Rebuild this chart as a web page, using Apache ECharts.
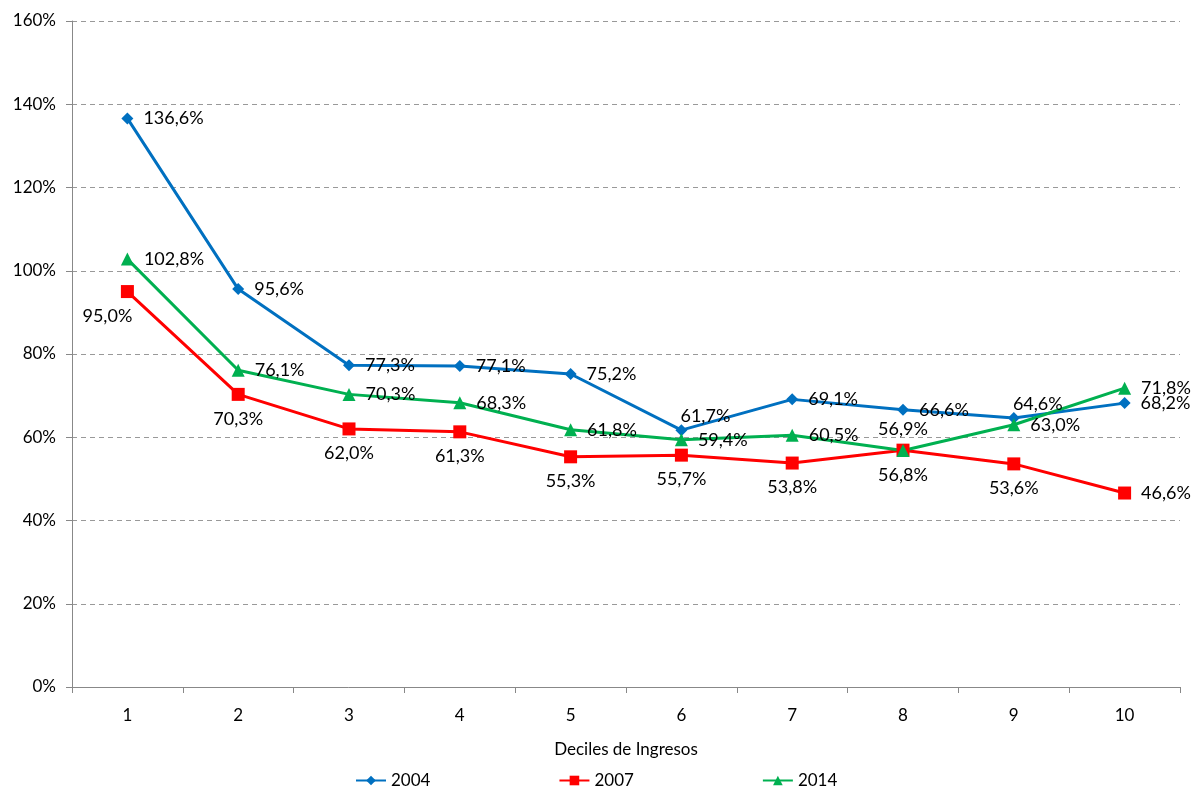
<!DOCTYPE html>
<html>
<head>
<meta charset="utf-8">
<script src="https://cdn.jsdelivr.net/npm/echarts@6/dist/echarts.min.js"></script>
<style>
html, body { margin: 0; padding: 0; background: #fff; }
#chart { width: 1193px; height: 787px; }
</style>
</head>
<body>
<div id="chart"></div>
<script>
var categories = ['1', '2', '3', '4', '5', '6', '7', '8', '9', '10'];
var s2004 = [136.6, 95.6, 77.3, 77.1, 75.2, 61.7, 69.1, 66.6, 64.6, 68.2];
var s2007 = [95.0, 70.3, 62.0, 61.3, 55.3, 55.7, 53.8, 56.9, 53.6, 46.6];
var s2014 = [102.8, 76.1, 70.3, 68.3, 61.8, 59.4, 60.5, 56.8, 63.0, 71.8];

// posición de la etiqueta de cada punto
var pos2004 = ['right', 'right', 'right', 'right', 'right', 'top', 'right', 'right', 'top', 'right'];
var pos2007 = ['bottom', 'bottom', 'bottom', 'bottom', 'bottom', 'bottom', 'bottom', 'top', 'bottom', 'right'];
var pos2014 = ['right', 'right', 'right', 'right', 'right', 'right', 'right', 'bottom', 'right', 'right'];

var font = 'Lato, "Open Sans", sans-serif';

function fmt(v) {
	return v.toFixed(1).replace('.', ',') + '%';
}

function buildData(vals, pos, topShift) {
	var out = [];
	for (var i = 0; i < vals.length; i++) {
		var lbl = { position: pos[i] };
		if (pos[i] === 'right') lbl.distance = 10;
		if (pos[i] === 'bottom') lbl.distance = 9;
		if (pos[i] === 'top' && topShift) lbl.offset = [24, 6];
		if (i === 0 && pos[i] === 'bottom') { lbl.offset = [-20, 0]; }
		out.push({ value: vals[i], label: lbl });
	}
	return out;
}

function lineSeries(name, vals, pos, color, symbol, size, topShift) {
	return {
		name: name,
		type: 'line',
		data: buildData(vals, pos, topShift),
		symbol: symbol,
		symbolSize: size,
		lineStyle: { width: 3, color: color },
		itemStyle: { color: color },
		label: {
			show: true,
			color: '#000',
			fontFamily: font,
			fontSize: 18,
			formatter: function (p) { return fmt(p.value); }
		},
		emphasis: { disabled: true }
	};
}

var myChart = echarts.init(document.getElementById('chart'));
var option = {
	animation: false,
	textStyle: { fontFamily: font },
	grid: { left: 72, right: 13, top: 21, bottom: 100 },
	legend: {
		top: 767,
		left: 350,
		itemGap: 128,
		itemWidth: 30,
		itemHeight: 12,
		textStyle: { fontSize: 17, color: '#000', fontFamily: font },
		data: ['2004', '2007', '2014']
	},
	xAxis: {
		type: 'category',
		data: categories,
		boundaryGap: true,
		name: 'Deciles de Ingresos',
		nameLocation: 'middle',
		nameGap: 54,
		nameTextStyle: { fontSize: 17, color: '#000', fontFamily: font },
		axisLine: { lineStyle: { color: '#888' } },
		axisTick: { show: true, length: 6, lineStyle: { color: '#888' } },
		axisLabel: { fontSize: 17, color: '#000', margin: 20, fontFamily: font }
	},
	yAxis: {
		type: 'value',
		min: 0,
		max: 160,
		interval: 20,
		axisLine: { show: true, lineStyle: { color: '#888' } },
		axisTick: { show: true, length: 6, lineStyle: { color: '#888' } },
		axisLabel: {
			fontSize: 17, color: '#000', margin: 16, fontFamily: font,
			formatter: '{value}%'
		},
		splitLine: { lineStyle: { color: '#999', type: [5, 4] } }
	},
	series: [
		lineSeries('2004', s2004, pos2004, '#0070C0', 'diamond', 12, true),
		lineSeries('2007', s2007, pos2007, '#FF0000', 'rect', 13, false),
		lineSeries('2014', s2014, pos2014, '#00B050', 'triangle', 13, false)
	]
};
myChart.setOption(option);
</script>
</body>
</html>
